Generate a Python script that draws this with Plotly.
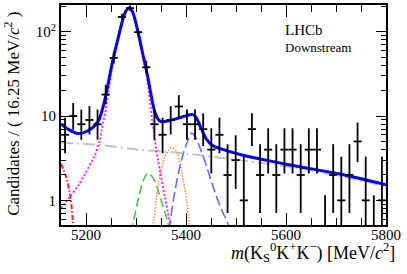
import math
import plotly.graph_objects as go

# ---------------- data ----------------
bin_lo = 5150.0
bin_w = 16.25
counts = [6, 10, 8, 9, 8, 18, 49, 150, 191, 99, 38, 8, 6, 9, 13, 8, 8, 7, 4, 6,
          2, 3, 1, 7, 2, 4, 2, 4, 4, 2, 4, 4, 0, 2, 1, 2, 5, 1, 0, 1]

# fit components (mass, candidates per bin)
total_m = [5150, 5164, 5184, 5204, 5224, 5237, 5244, 5254, 5264, 5274, 5280, 5285, 5292, 5304,
           5314, 5320.6, 5328, 5333, 5338, 5344, 5350, 5358, 5368, 5388, 5408, 5416, 5422,
           5431, 5441, 5455, 5475, 5508, 5548, 5608, 5708, 5800]
total_v = [8.1, 7.0, 6.2, 6.7, 8.6, 15, 23.8, 47, 83, 143, 178, 192, 178, 100,
           53, 36, 21, 14.5, 11, 9.2, 8.6, 8.6, 8.9, 9.6, 10.4, 10.3, 9.2,
           7.0, 5.3, 4.4, 4.0, 3.5, 3.1, 2.63, 2.05, 1.53]

sig_m = [5150, 5164.6, 5184.6, 5198, 5217.4, 5227.4, 5234, 5238.6, 5244, 5254, 5264, 5274,
         5280, 5285, 5292, 5304, 5314, 5320.6, 5328, 5333, 5338, 5344, 5348, 5358, 5368, 5372]
sig_v = [0.80, 1.05, 1.5, 2.07, 3.38, 5.08, 8.3, 11.0, 18.5, 42, 78, 138,
         173, 187, 173, 96, 48, 32, 15, 8.5, 5.0, 3.0, 2.2, 1.1, 0.53, 0.42]

part_m = [5150, 5160.6, 5169.4, 5174, 5176]
part_v = [2.72, 1.88, 1.05, 0.55, 0.45]

comb_m = [5150, 5224, 5308, 5354, 5388, 5508, 5628, 5800]
comb_v = [4.85, 4.56, 3.98, 3.8, 3.65, 3.0, 2.38, 1.48]

green_m = [5290, 5294, 5304, 5314, 5322.6, 5328, 5338, 5348, 5358, 5364, 5368]
green_v = [0.42, 0.53, 1.0, 1.67, 2.1, 2.05, 1.67, 1.1, 0.72, 0.53, 0.42]

orange_m = [5333, 5334.6, 5341.4, 5348, 5358, 5371.4, 5381.4, 5391.4, 5401.4, 5406.6, 5408]
orange_v = [0.45, 0.53, 1.1, 1.97, 3.3, 4.25, 3.8, 2.15, 1.0, 0.53, 0.45]

bs_m = [5366, 5368, 5374.6, 5384.6, 5394.6, 5404.6, 5411.4, 5418, 5428, 5441.4, 5454.6,
        5468, 5482.6, 5490]
bs_v = [0.45, 0.53, 1.0, 2.07, 3.6, 5.3, 6.3, 5.8, 4.2, 2.5, 1.43, 0.86, 0.55, 0.45]

x_ticks = [5200, 5400, 5600, 5800]
y_ticks = [1, 10, 100]
y_ticktext = ["1", "10", "10<sup>2</sup>"]

# ---------------- Poisson (RooFit-style) errors ----------------
ALPHA = 0.15865


def pois_cdf(k, mu):
    term = math.exp(-mu)
    s = term
    for i in range(1, k + 1):
        term *= mu / i
        s += term
    return s


def bisect(f, lo, hi):
    for _ in range(100):
        mid = 0.5 * (lo + hi)
        if f(mid) > 0:
            hi = mid
        else:
            lo = mid
    return 0.5 * (lo + hi)


def interval(n):
    if n == 0:
        return 0.0, -math.log(1 - 0.6827)
    lo = bisect(lambda mu: (1 - pois_cdf(n - 1, mu)) - ALPHA, 0.0, n + 10)
    hi = bisect(lambda mu: ALPHA - pois_cdf(n, mu), n, n * 3 + 20)
    return lo, hi


centers = [bin_lo + bin_w * (i + 0.5) for i in range(len(counts))]
nz_x, nz_y, nz_up, nz_dn = [], [], [], []
z_x, z_y = [], []
for c, n in zip(centers, counts):
    lo, hi = interval(n)
    if n > 0:
        nz_x.append(c)
        nz_y.append(n)
        nz_up.append(hi - n)
        nz_dn.append(n - lo)
    else:
        z_x.append(c)
        z_y.append(hi)

FONT = "Liberation Serif"
fig = go.Figure()


def curve(xs, ys, color, width, dash):
    fig.add_trace(go.Scatter(x=xs, y=ys, mode="lines",
                             line=dict(color=color, width=width, dash=dash, shape="spline", smoothing=0.8),
                             hoverinfo="skip", showlegend=False))


curve(comb_m, comb_v, "#c4c4c4", 2, "12px,4px,2px,4px")
curve(part_m, part_v, "#ff2020", 2, "5px,2px,1.5px,2px")
curve(green_m, green_v, "#44cc44", 1.6, "9px,4px")
curve(orange_m, orange_v, "#ff8c3c", 1.6, "1.5px,1.5px")
curve(bs_m, bs_v, "#6a6aff", 1.6, "10px,4px")
curve(sig_m, sig_v, "#ff22ff", 2, "2px,2px")
curve(total_m, total_v, "#0000ff", 3, "solid")

fig.add_trace(go.Scatter(
    x=nz_x, y=nz_y, mode="markers",
    marker=dict(size=1, color="black"),
    error_y=dict(type="data", symmetric=False, array=nz_up, arrayminus=nz_dn,
                 color="black", thickness=1.8, width=0),
    error_x=dict(type="constant", value=bin_w / 2, color="black", thickness=1.8, width=0),
    hoverinfo="skip", showlegend=False))
fig.add_trace(go.Scatter(
    x=z_x, y=z_y, mode="markers",
    marker=dict(size=0.1, color="black", opacity=0),
    error_y=dict(type="data", symmetric=False, array=[0] * len(z_x), arrayminus=z_y,
                 color="black", thickness=1.8, width=0),
    hoverinfo="skip", showlegend=False))

annotations = [
    dict(text=str(t), x=t, y=-0.044, xref="x", yref="paper", xanchor="center",
         yanchor="middle", showarrow=False, font=dict(size=15))
    for t in x_ticks
]
annotations += [
    dict(text="LHCb", x=0.683, y=0.887, xref="paper", yref="paper", xanchor="left",
         yanchor="middle", showarrow=False, font=dict(size=15)),
    dict(text="Downstream", x=0.683, y=0.806, xref="paper", yref="paper", xanchor="left",
         yanchor="middle", showarrow=False, font=dict(size=13)),
    dict(text="<i>m</i>(K<sub>S</sub><sup>0</sup>K<sup>+</sup>K<sup>\u2212</sup>) [MeV/<i>c</i><sup>2</sup>]",
         x=1.034, y=-0.124, xref="paper", yref="paper", xanchor="right", yanchor="middle",
         showarrow=False, font=dict(size=18)),
    dict(text="Candidates / ( 16.25 MeV/<i>c</i><sup>2</sup> )", x=-0.151, y=0.505,
         xref="paper", yref="paper", xanchor="center", yanchor="middle", textangle=-90,
         showarrow=False, font=dict(size=17)),
]

fig.update_layout(
    width=407, height=274,
    margin=dict(l=61, r=21, t=3, b=49),
    paper_bgcolor="white", plot_bgcolor="white",
    font=dict(family=FONT, size=15, color="black"),
    showlegend=False,
    xaxis=dict(range=[5150, 5800], tickvals=x_ticks, showticklabels=False, ticks="inside",
               ticklen=12, tickwidth=1.2,
               tickcolor="black", showline=True, linecolor="black", linewidth=1.8, mirror="ticks",
               showgrid=False, zeroline=False,
               minor=dict(dtick=50, tick0=5150, ticks="inside", ticklen=7, tickwidth=1.2,
                          tickcolor="black", showgrid=False)),
    yaxis=dict(type="log", range=[math.log10(0.51), math.log10(208)], tickvals=y_ticks,
               ticktext=y_ticktext, ticks="inside", ticklen=10, tickwidth=1.2, tickcolor="black",
               showline=True, linecolor="black", linewidth=1.8, mirror="ticks", showgrid=False,
               zeroline=False, tickfont=dict(size=15),
               minor=dict(tickvals=[0.6, 0.7, 0.8, 0.9, 2, 3, 4, 5, 6, 7, 8, 9,
                                    20, 30, 40, 50, 60, 70, 80, 90, 200],
                          ticks="inside", ticklen=5, tickwidth=1.2, tickcolor="black",
                          showgrid=False)),
    annotations=annotations,
)

fig.write_html("out.html", config={"displayModeBar": False},
               post_script="document.body.style.margin='0';document.body.style.overflow='hidden';")
